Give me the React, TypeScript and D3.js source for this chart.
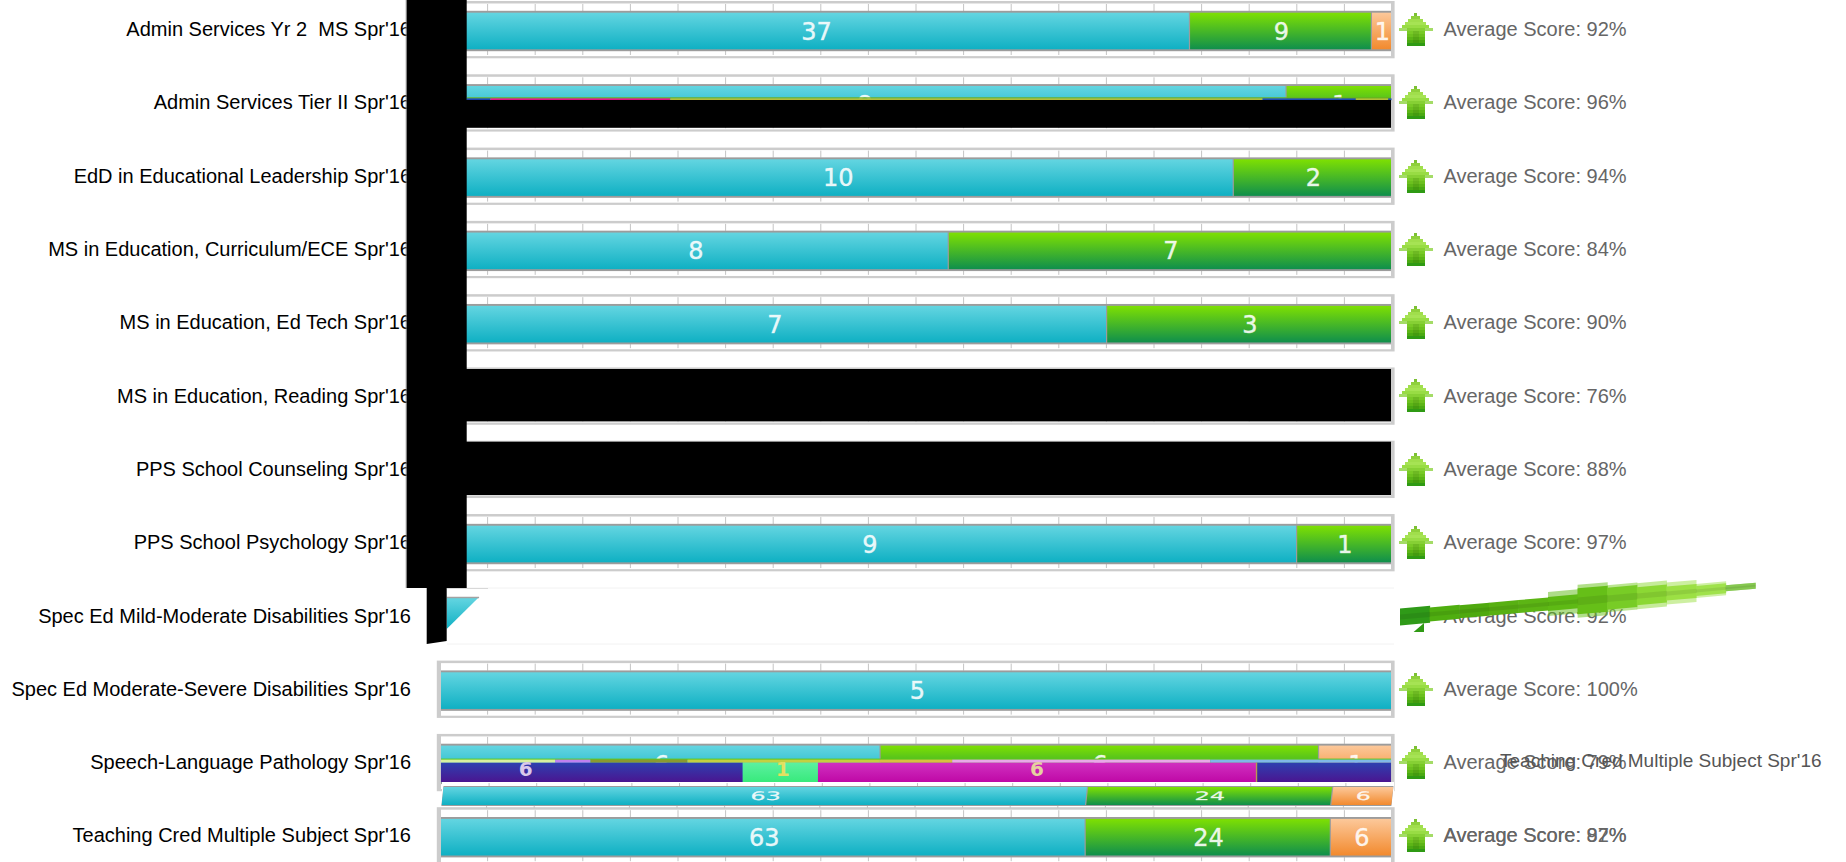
import React from "react";
import * as d3 from "d3";

const programs = [
  "Admin Services Yr 2  MS Spr'16",
  "Admin Services Tier II Spr'16",
  "EdD in Educational Leadership Spr'16",
  "MS in Education, Curriculum/ECE Spr'16",
  "MS in Education, Ed Tech Spr'16",
  "MS in Education, Reading Spr'16",
  "PPS School Counseling Spr'16",
  "PPS School Psychology Spr'16",
  "Spec Ed Mild-Moderate Disabilities Spr'16",
  "Spec Ed Moderate-Severe Disabilities Spr'16",
  "Speech-Language Pathology Spr'16",
  "Teaching Cred Multiple Subject Spr'16",
];
const cyanCounts = [37, 8, 10, 8, 7, 0, 0, 9, 0, 5, 6, 63];
const greenCounts = [9, 1, 2, 7, 3, 0, 0, 1, 0, 0, 6, 24];
const orangeCounts = [1, 0, 0, 0, 0, 0, 0, 0, 0, 0, 1, 6];
const scores = [92, 96, 94, 84, 90, 76, 88, 97, 92, 100, 79, 87];
const extraScoreLast = 92;
const tickValues = d3.range(0, 101, 5);

// Overlaid colour band on the Speech-Language row (percent of the bar)
const bandStart = [0.1, 31.8, 39.7];
const bandEnd = [31.8, 39.7, 85.8];
const bandFill = ["url(#gPurple)", "url(#gMint)", "url(#gMagenta)"];
const bandLast = [85.8, 99.9];
const bandLabelPct = [9, 36, 62.7];
const bandLabelText = ["6", "1", "6"];
const bandLabelFill = ["#d9c8ea", "#e4e060", "#e6d0a0"];

// Thin strips of glitch colour, [start %, end %, colour]
const stripTier2: [number, number, string][] = [
  [2.8, 5.3, "#1b43b4"],
  [5.3, 24.2, "#e0158a"],
  [24.2, 86.4, "#b3bd38"],
  [86.4, 96.2, "#1f4cb5"],
  [96.2, 99.6, "#b3bd38"],
  [99.6, 99.95, "#1f4cb5"],
];
const stripSpeech: [number, number, string][] = [
  [0.1, 12.1, "#d8f0a0"],
  [12.1, 15.8, "#c080f0"],
  [15.8, 26, "#8a9a30"],
  [26, 46.2, "#c4d040"],
  [46.2, 53.8, "#d8c040"],
  [53.8, 80.9, "#e8a8e8"],
  [80.9, 99.9, "#80b8e8"],
];

const arrowRowWidths = [3, 9, 15, 21, 27, 34, 18, 18, 18, 18, 18];
const arrowRowColors = ["#7cc033", "#8fd03c", "#a0de4c", "#a6e354", "#98dc44", "#86d034", "#78c926", "#6cc01e", "#5cb516", "#4aa912", "#2f9a14"];
const warpCore = [17, 14, 13, 13, 13, 14, 26, 22, 18, 14, 10, 6];
const warpPale = [0, 0, 0, 0, 0, 24, 33, 27, 26, 22, 14, 6];
const warpColors = ["#2f9a18", "#4fae10", "#4fa90f", "#58b012", "#5cb514", "#5eba14", "#66bf18", "#78cc26", "#8cd834", "#9ce044", "#a0e24c", "#86c850"];

const FONT = "'Liberation Sans', Arial, sans-serif";
const x = d3.scaleLinear().domain([0, 100]).range([440, 1392]);
const rowY = d3.scaleLinear().domain([0, 11]).range([1, 807.2]);

const BAR_L = 441;
const BAR_R = 1391;
const BAR_W = BAR_R - BAR_L;

function BarSegments({ i, id }: { i: number; id: string }) {
  const vals = [cyanCounts[i], greenCounts[i], orangeCounts[i]];
  const fills = ["url(#gCyan)", "url(#gGreen)", "url(#gOrange)"];
  const total = d3.sum(vals);
  const sx = d3.scaleLinear().domain([0, total]).range([BAR_L, BAR_R]);
  let acc = 0;
  return (
    <g>
      <clipPath id={id}>
        <rect x={BAR_L} y={0} width={BAR_W} height={60} />
      </clipPath>
      <rect x={BAR_L} y={9.8} width={BAR_W} height={40.4} fill="#9c9c9c" />
      <g clipPath={`url(#${id})`}>
        {vals.map((v, k) => {
          if (!v) return null;
          const a = sx(acc);
          acc += v;
          const b = sx(acc);
          return (
            <g key={k}>
              <rect x={a + (k ? 1.2 : 0)} y={11.7} width={b - a - (k ? 1.2 : 0)} height={36.6} fill={fills[k]} />
              <text x={(a + b) / 2 + 1.5} y={30} dy="0.36em" textAnchor="middle" fontFamily="'DejaVu Sans', sans-serif" fontSize={24} fill="#ffffff" fillOpacity={0.88} stroke="#ffffff" strokeOpacity={0.6} strokeWidth={0.6}>
                {v}
              </text>
            </g>
          );
        })}
      </g>
    </g>
  );
}

function Ticks() {
  return (
    <g stroke="#c4c4c4" strokeWidth={1}>
      {tickValues.slice(1, -1).map((t) => (
        <g key={t}>
          <line x1={x(t)} x2={x(t)} y1={3} y2={10} />
          <line x1={x(t)} x2={x(t)} y1={50} y2={54} />
        </g>
      ))}
    </g>
  );
}

function Frame() {
  return (
    <g>
      <rect x={436.8} y={0} width={957.8} height={57.3} fill="#cccccc" />
      <rect x={441} y={2.5} width={950} height={52.6} fill="#ffffff" />
    </g>
  );
}

function Arrow({ cy }: { cy: number }) {
  let y = cy - 16.5;
  return (
    <g shapeRendering="crispEdges">
      {arrowRowWidths.map((w, k) => {
        const r = (
          <g key={k}>
            <rect x={1415.5 - w / 2} y={y} width={w} height={3} fill={arrowRowColors[k]} fillOpacity={k === 5 ? 0.75 : 1} />
            {k >= 5 && <rect x={1415.5 - 9} y={y} width={18} height={3} fill={arrowRowColors[k]} />}
            {k >= 6 && k < 10 && <rect x={1412.5} y={y} width={6} height={3} fill="#000" fillOpacity={0.08} />}
          </g>
        );
        y += 3;
        return r;
      })}
    </g>
  );
}

function WarpedArrow() {
  const x0 = 1400;
  const step = 29.6;
  const slope = 0.088;
  const cy = (px: number) => 617 - (px - x0) * slope;
  const poly = (i: number, h: number) => {
    const a = x0 + i * step;
    const b = a + step + 0.5;
    return `${a},${cy(a) - h / 2} ${b},${cy(b) - h / 2} ${b},${cy(b) + h / 2} ${a},${cy(a) + h / 2}`;
  };
  return (
    <g>
      <polygon points="1413.6,632 1424,623 1424,632" fill="#2f9a14" />
      {warpPale.map((h, i) => (h ? <polygon key={i} points={poly(i, h)} fill={warpColors[i]} fillOpacity={0.5} /> : null))}
      {warpCore.map((h, i) => (
        <polygon key={i} points={poly(i, h)} fill={warpColors[i]} />
      ))}
      {warpCore.map((h, i) => (
        <polygon key={i} points={poly(i, h * 0.3)} fill="#000" fillOpacity={0.08} />
      ))}
    </g>
  );
}

export default function App() {
  return (
    <svg width={1846} height={862} style={{ position: "absolute", left: 0, top: 0, display: "block", background: "#fff" }}>
      <defs>
        {(
          [
            ["gCyan", "#63d5e1", "#0fb0c3"],
            ["gGreen", "#7ee002", "#0f8f4c"],
            ["gOrange", "#fcc89a", "#f28a2e"],
            ["gPurple", "#2e40b0", "#4a1590"],
            ["gMint", "#5cf0a0", "#38ea7c"],
            ["gMagenta", "#d030c0", "#bf08a6"],
          ] as [string, string, string][]
        ).map(([id, a, b]) => (
          <linearGradient key={id} id={id} x1="0" y1="0" x2="0" y2="1">
            <stop offset="0" stopColor={a} />
            <stop offset="1" stopColor={b} />
          </linearGradient>
        ))}
      </defs>

      {programs.map((p, i) => (
        <text key={p} x={411} y={rowY(i) + 28.2} dy="0.35em" textAnchor="end" fontFamily={FONT} fontSize={20} fill="#000" style={{ whiteSpace: "pre" }}>
          {p}
        </text>
      ))}

      {programs.map((p, i) =>
        i === 8 ? null : (
          <g key={p} transform={`translate(0,${rowY(i)})`}>
            <Frame />
            <Ticks />
            {d3.sum([cyanCounts[i], greenCounts[i], orangeCounts[i]]) > 0 && <BarSegments i={i} id={`clip${i}`} />}
          </g>
        )
      )}

      {/* Mild-Moderate row: collapsed */}
      <line x1={447} x2={1394} y1={588} y2={588} stroke="#f2f2f2" />
      <line x1={447} x2={1394} y1={644} y2={644} stroke="#f2f2f2" />
      <line x1={447} x2={488} y1={588.5} y2={588.5} stroke="#d8d8d8" />
      <polygon points={`${BAR_L + 5.7},598 ${x(4)},598 ${BAR_L + 5.7},629`} fill="url(#gCyan)" />
      <line x1={BAR_L + 5.7} x2={x(4) + 1} y1={597.5} y2={597.5} stroke="#a2a2a2" strokeWidth={1.5} />

      {/* Tier II glitch strip */}
      <rect x={467} y={97.3} width={924} height={1.4} fill="#6cae20" />
      {stripTier2.map(([a, b, c], k) => (
        <rect key={k} x={x(a)} y={98.4} width={x(b) - x(a)} height={1.8} fill={c} />
      ))}

      {/* Speech-Language overlaid band */}
      <rect x={BAR_L} y={758.6} width={BAR_W} height={1.4} fill="#5cc820" />
      {stripSpeech.map(([a, b, c], k) => (
        <rect key={k} x={x(a)} y={759.6} width={x(b) - x(a)} height={3.2} fill={c} />
      ))}
      {bandStart.map((a, k) => (
        <rect key={k} x={x(a)} y={762.7} width={x(bandEnd[k]) - x(a)} height={19.3} fill={bandFill[k]} />
      ))}
      <rect x={x(bandLast[0])} y={762.7} width={x(bandLast[1]) - x(bandLast[0])} height={19.3} fill="url(#gPurple)" />
      <rect x={x(bandLast[0]) - 1} y={762.7} width={1.4} height={19.3} fill="#b89a50" />
      {bandLabelPct.map((pct, k) => (
        <text key={k} x={x(pct)} y={769} dy="0.36em" textAnchor="middle" fontFamily="'DejaVu Sans', sans-serif" fontSize={20} fontWeight="bold" fill={bandLabelFill[k]}>
          {bandLabelText[k]}
        </text>
      ))}

      {/* Squashed copy of the Teaching Cred bar */}
      <rect x={442} y={782} width={952} height={25} fill="#ffffff" />
      <g transform="translate(3,781.3) scale(1,0.49) skewX(-3)">
        <BarSegments i={11} id="clipMini" />
      </g>
      <g stroke="#c4c4c4">
        {tickValues.slice(1, -1).map((t) => (
          <g key={t}>
            <line x1={x(t) + 1.5} x2={x(t) + 1.5} y1={783} y2={786} />
            <line x1={x(t) - 1} x2={x(t) - 1} y1={806} y2={808} />
          </g>
        ))}
      </g>

      {/* Black redaction blocks */}
      <line x1={406.2} x2={406.2} y1={0} y2={588} stroke="#999" />
      <rect x={406.7} y={0} width={60} height={588} fill="#000" />
      <polygon points="426.7,588 446.7,588 446.7,641 426.7,644" fill="#000" />
      <rect x={466} y={100} width={925} height={27.8} fill="#000" />
      <rect x={466} y={369} width={925} height={52.4} fill="#000" />
      <rect x={466} y={441.7} width={925} height={53.4} fill="#000" />

      {programs.map((p, i) => (
        <g key={p}>
          {i !== 8 && <Arrow cy={rowY(i) + 28.5} />}
          <text x={1443.5} y={rowY(i) + 28.2} dy="0.35em" fontFamily={FONT} fontSize={20} fill="#666">
            Average Score: {scores[i]}%
          </text>
        </g>
      ))}
      <text x={1443.5} y={rowY(11) + 28.2} dy="0.35em" fontFamily={FONT} fontSize={20} fill="#666">
        Average Score: {extraScoreLast}%
      </text>
      <WarpedArrow />
      <text x={1500} y={760.7} dy="0.35em" fontFamily={FONT} fontSize={19} fill="#555">
        {programs[11]}
      </text>
    </svg>
  );
}
